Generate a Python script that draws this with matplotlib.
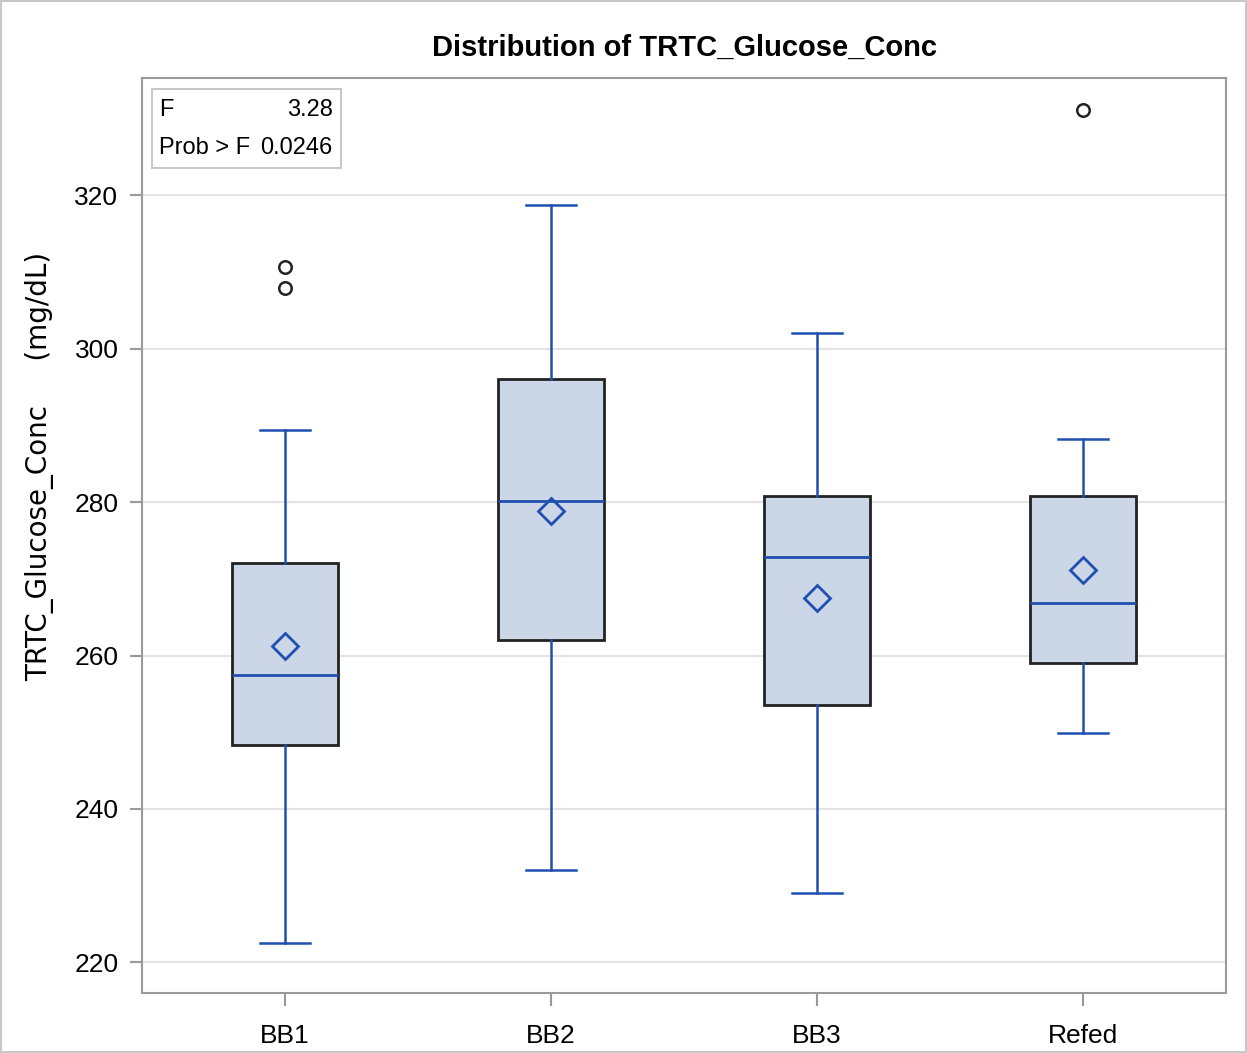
import numpy as np
import matplotlib
matplotlib.use("Agg")
from matplotlib import pyplot as plt

groups = ["BB1", "BB2", "BB3", "Refed"]
whislo = [222.5, 232.0, 229.0, 249.9]
q1 = [248.4, 262.0, 253.6, 259.0]
med = [257.5, 280.2, 272.8, 266.8]
mean = [261.2, 278.8, 267.5, 271.1]
q3 = [272.0, 296.1, 280.8, 280.8]
whishi = [289.4, 318.7, 302.1, 288.2]
fliers = [[310.7, 307.9], [], [], [331.1]]

f_value = "3.28"
p_value = "0.0246"

plt.rcParams["font.family"] = ["Liberation Sans", "DejaVu Sans"]

blue = "#1f4fb0"
fig = plt.figure(figsize=(12.47, 10.53), dpi=100)
ax = fig.add_axes([142/1247, 1-993/1053, (1226-142)/1247, (993-78)/1053])

stats = []
for i in range(len(groups)):
    stats.append(dict(label=groups[i], whislo=whislo[i], q1=q1[i], med=med[i],
                      mean=mean[i], q3=q3[i], whishi=whishi[i], fliers=fliers[i]))

pos = np.arange(len(groups))
ax.bxp(stats, positions=pos, widths=0.40, showmeans=True, patch_artist=True,
       boxprops=dict(facecolor="#cbd6e6", edgecolor="#222222", linewidth=2),
       medianprops=dict(color=blue, linewidth=2),
       whiskerprops=dict(color=blue, linewidth=1.8),
       capprops=dict(color=blue, linewidth=1.8),
       capwidths=0.19,
       meanprops=dict(marker="D", markerfacecolor="none", markeredgecolor=blue,
                      markersize=13, markeredgewidth=2),
       flierprops=dict(marker="o", markerfacecolor="none", markeredgecolor="#222222",
                       markersize=9, markeredgewidth=1.8))

ax.set_xlim(-0.538, 3.538)
ax.set_ylim(216.0, 335.3)
ax.set_yticks([220, 240, 260, 280, 300, 320])
ax.yaxis.grid(True, color="#e3e3e3", linewidth=1.5)
ax.set_axisbelow(True)
for s in ax.spines.values():
    s.set_color("#9a9a9a")
    s.set_linewidth(1.5)
ax.tick_params(labelsize=19, color="#9a9a9a", length=9, width=1.5, pad=8)
ax.tick_params(axis="x", pad=13)
ax.set_xticks(pos)
ax.set_xticklabels(groups)

ax.set_title("Distribution of TRTC_Glucose_Conc", fontsize=21, fontweight="bold", pad=16)
ax.set_ylabel("TRTC_Glucose_Conc     (mg/dL)", fontsize=20, family="DejaVu Sans")
ax.yaxis.set_label_coords(-0.081, 0.575)

# F-test inset
trans = ax.transAxes
ax.text(0.016, 0.965, "F", transform=trans, fontsize=17, va="center", ha="left")
ax.text(0.016, 0.924, "Prob > F", transform=trans, fontsize=17, va="center", ha="left")
ax.text(0.176, 0.965, f_value, transform=trans, fontsize=17, va="center", ha="right")
ax.text(0.176, 0.924, p_value, transform=trans, fontsize=17, va="center", ha="right")
box = plt.Rectangle((0.009, 0.902), 0.175, 0.086, transform=trans,
                    fill=False, edgecolor="#c8c8c8", linewidth=1.5)
ax.add_patch(box)

fig.patches.append(plt.Rectangle((0.001, 0.001), 0.998, 0.998, transform=fig.transFigure,
                                 fill=False, edgecolor="#c8c8c8", linewidth=1.5))
plt.savefig("out.png", dpi=100)
